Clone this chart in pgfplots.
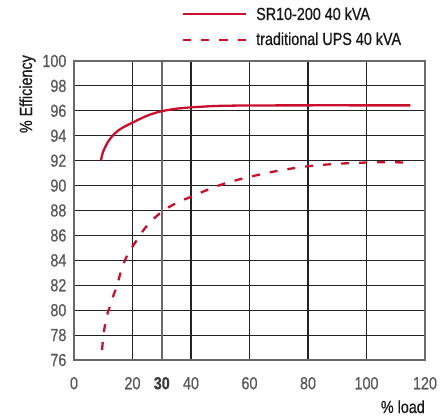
\documentclass[border=0pt]{standalone}
\usepackage{fontspec}
\IfFontExistsTF{Liberation Sans Narrow}
  {\setmainfont{Liberation Sans Narrow}[FakeBold=0.7]}
  {\setmainfont{Liberation Sans}[FakeStretch=0.82, FakeBold=0.7]}
\usepackage{pgfplots}
\pgfplotsset{compat=1.18}

\definecolor{upsred}{RGB}{200,16,46}
\definecolor{framegray}{RGB}{105,105,105}
\definecolor{gridgray}{RGB}{35,35,35}
\definecolor{labelgray}{RGB}{90,90,90}
\definecolor{textdark}{RGB}{25,25,25}

\begin{document}
\fontsize{17.5}{20}\selectfont
\begin{tikzpicture}[x=1pt,y=1pt]
\useasboundingbox (0pt,0pt) rectangle (445pt,416pt);
\begin{axis}[
    at={(74pt,56pt)}, anchor=south west,
    scale only axis, width=351pt, height=299pt,
    xmin=0, xmax=120, ymin=76, ymax=100,
    xtick={0,20,40,60,80,100,120},
    extra x ticks={30},
    extra x tick style={grid=major,
        major grid style={framegray, line width=1.7pt},
        xticklabel style={font=\fontsize{17.5}{20}\selectfont\bfseries, text=textdark!85}},
    ytick={76,78,...,100},
    grid=major,
    grid style={gridgray, line width=1.1pt},
    axis line style={framegray, line width=1.7pt},
    major tick length=0pt,
    tick label style={text=labelgray, font=\fontsize{17.5}{20}\selectfont},
    xticklabel style={yshift=-11pt},
    yticklabel style={xshift=-1.6pt},
    /pgf/number format/assume math mode=true,
]
% SR10-200 40 kVA
\addplot[upsred, line width=2.3pt, smooth, tension=0.5] coordinates {
    (9.2,92) (9.6,92.45) (10,92.75) (11,93.25) (12,93.65) (13.4,94.05)
    (15,94.4) (17,94.7) (20,95.05) (23,95.4) (26,95.7) (30,95.97)
    (35,96.17) (40,96.28) (45,96.35) (50,96.4) (60,96.43) (80,96.44)
    (100,96.44) (115,96.44)
};
% traditional UPS 40 kVA
\addplot[upsred, line width=2.3pt, dash pattern=on 8pt off 10pt, smooth, tension=0.5] coordinates {
    (9.6,76.8) (10,77.9) (10.6,78.8) (11.3,79.6) (12.4,80.4) (13.5,81.2)
    (14.6,81.9) (16.3,83.3) (18,84.3) (20,85.1) (22,85.8) (25,86.8)
    (30,87.9) (35,88.6) (40,89.1) (45,89.6) (50,90.05) (55,90.4)
    (60,90.7) (70,91.2) (80,91.55) (90,91.75) (100,91.85) (106,91.88)
    (114,91.85)
};
\end{axis}

% legend
\draw[upsred, line width=2.3pt] (182.7pt,402pt) -- (246pt,402pt);
\node[anchor=base west, inner sep=0, text=textdark] at (256pt,396pt) {SR10-200 40 kVA};
\draw[upsred, line width=2.3pt, dash pattern=on 8.3pt off 10pt] (182.7pt,376pt) -- (246pt,376pt);
\node[anchor=base west, inner sep=0, text=textdark] at (256pt,371pt) {traditional UPS 40 kVA};

% axis labels
\node[rotate=90, anchor=base east, inner sep=0, text=textdark] at (32pt,361pt) {\% Efficiency};
\node[anchor=base east, inner sep=0, text=textdark] at (425pt,3pt) {\% load};
\end{tikzpicture}
\end{document}
